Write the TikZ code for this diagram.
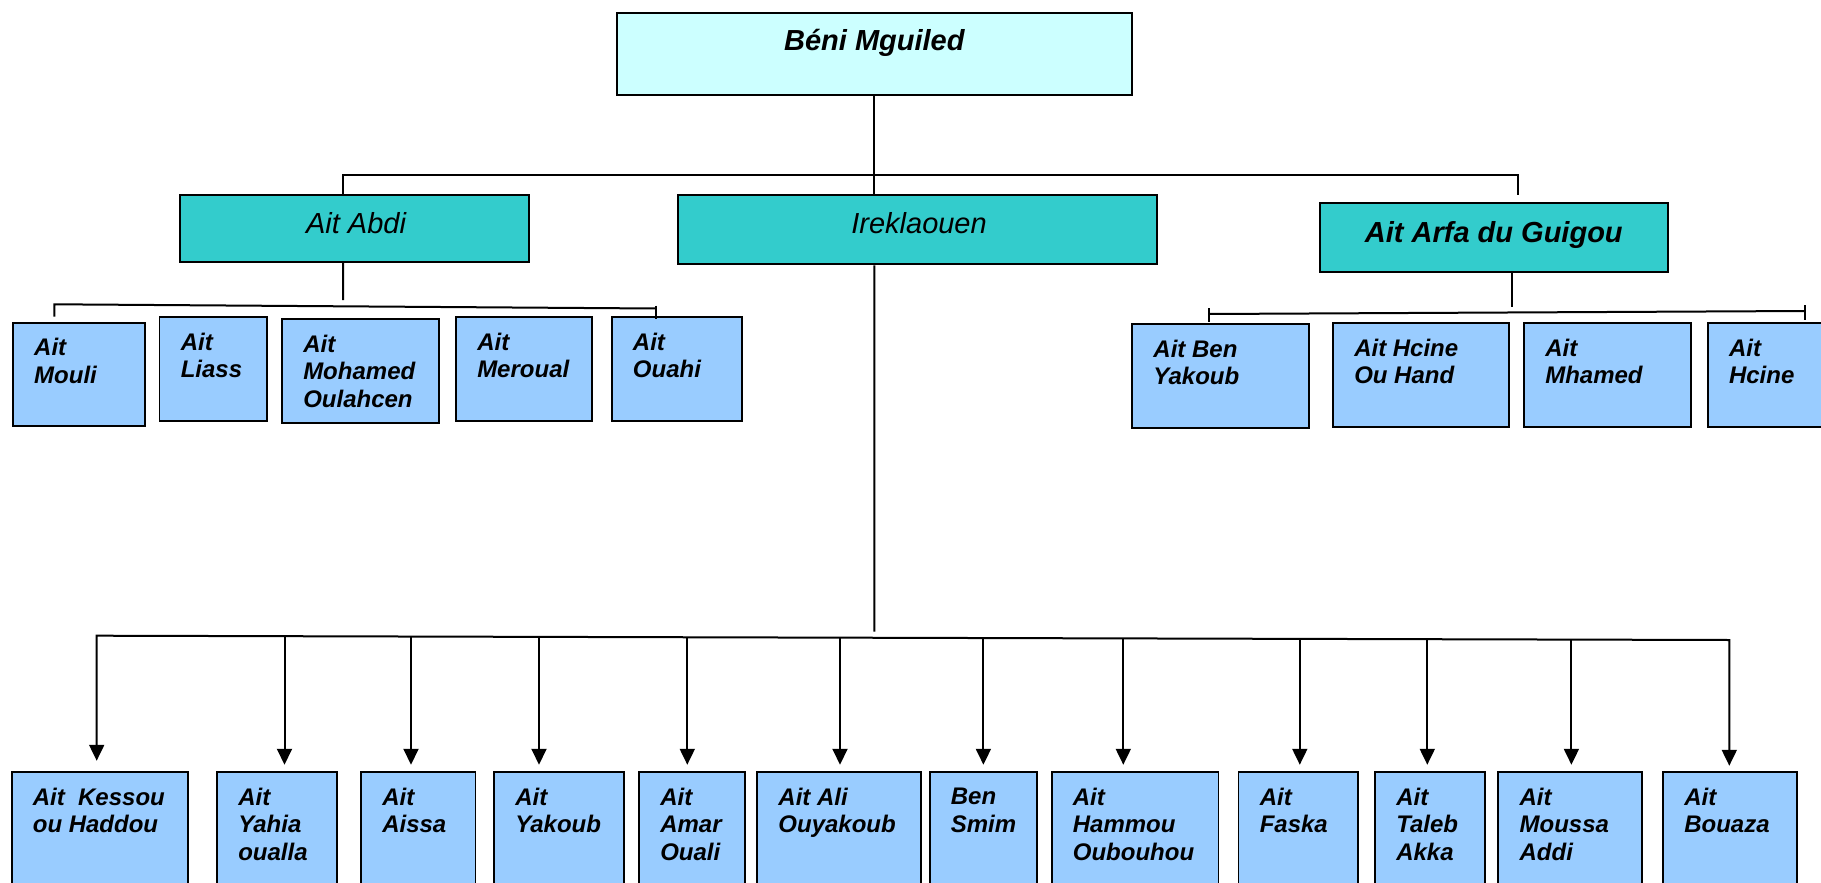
\documentclass[tikz,border=0pt]{standalone}
\usepackage{fontspec}
\setmainfont{Liberation Sans}
\usetikzlibrary{arrows.meta,fit}

\definecolor{rootfill}{HTML}{CCFFFF}
\definecolor{tribefill}{HTML}{33CCCC}
\definecolor{clanfill}{HTML}{99CCFF}

% clan box: name, left, top, right, bottom, text
\newcommand\clan[6]{%
  \node[clanbox, fit={(#2,#3) (#4,#5)}] (#1) {};
  \node[clantext] (#1-t) at ([xshift=22pt,yshift=-16.5pt]#1.north west) {#6};
}

\begin{document}
\begin{tikzpicture}[x=1pt,y=-1pt,
  box/.style={draw=black, line width=1.9pt, inner sep=0pt},
  rootbox/.style={box, fill=rootfill},
  tribebox/.style={box, fill=tribefill},
  clanbox/.style={box, fill=clanfill},
  tribetext/.style={inner sep=0pt, anchor=base, font=\fontsize{29}{34}\selectfont\itshape},
  headtext/.style={tribetext, font=\fontsize{29}{34}\selectfont\bfseries\itshape},
  clantext/.style={inner sep=0pt, anchor=north west, align=left,
    font=\fontsize{24}{27.5}\selectfont\bfseries\itshape},
  wire/.style={line width=2pt},
  tip/.tip={Triangle[length=16pt,width=15pt]},
  arr/.style={wire, -tip},
]
\useasboundingbox (0,0) rectangle (1821,883);
\fill[white] (0,0) rectangle (1821,883);
\clip (0,0) rectangle (1821,883);

% root and tribes
\node[rootbox, fit={(616.8,12.7) (1131.9,94.7)}] (beni) {};
\node[headtext] (beni-t) at ([yshift=-39pt]beni.north) {Béni Mguiled};

\node[tribebox, fit={(180.3,195) (528.8,262)}] (abdi) {};
\node[tribetext] (abdi-t) at ([xshift=1.5pt,yshift=-39pt]abdi.north) {Ait Abdi};

\node[tribebox, fit={(677.7,195) (1156.8,264.3)}] (irek) {};
\node[tribetext] (irek-t) at ([xshift=1.8pt,yshift=-39pt]irek.north) {Ireklaouen};

\node[tribebox, fit={(1319.8,203.3) (1667.8,272.3)}] (arfa) {};
\node[headtext] (arfa-t) at ([yshift=-40pt]arfa.north) {Ait Arfa du Guigou};

% clans of Ait Abdi
\clan{mouli}{13}{322.7}{145.4}{426}{Ait\\Mouli}
\clan{liass}{159.5}{317.3}{267}{420.7}{Ait\\Liass}
\clan{mohamed}{282}{319.3}{439}{422.7}{Ait\\Mohamed\\Oulahcen}
\clan{meroual}{456}{317.3}{592}{420.7}{Ait\\Meroual}
\clan{ouahi}{611.7}{317.3}{742}{420.7}{Ait\\Ouahi}

% clans of Ait Arfa du Guigou
\clan{benyakoub}{1132.2}{324}{1309.2}{428.3}{Ait Ben\\Yakoub}
\clan{ouhand}{1333}{323.3}{1509.2}{426.7}{Ait Hcine\\Ou Hand}
\clan{mhamed}{1524}{323.3}{1690.8}{426.7}{Ait\\Mhamed}
\clan{hcine}{1707.8}{323.3}{1840}{426.7}{Ait\\Hcine}

% clans of Ireklaouen
\clan{kessou}{11.6}{772.3}{188}{905}{Ait~ Kessou\\ou Haddou}
\clan{yahia}{217}{772.3}{337.4}{905}{Ait\\Yahia\\oualla}
\clan{aissa}{361}{772.3}{475.5}{905}{Ait\\Aissa}
\clan{yakoub}{494}{772.3}{624.3}{905}{Ait\\Yakoub}
\clan{amar}{639}{772.3}{745}{905}{Ait\\Amar\\Ouali}
\clan{ali}{757.2}{772.3}{920.6}{905}{Ait Ali\\Ouyakoub}
\clan{smim}{929.6}{772.3}{1037}{905}{Ben\\Smim}
\clan{hammou}{1051.6}{772.3}{1218.5}{905}{Ait\\Hammou\\Oubouhou}
\clan{faska}{1238.5}{772.3}{1357.7}{905}{Ait\\Faska}
\clan{taleb}{1375}{772.3}{1485.3}{905}{Ait\\Taleb\\Akka}
\clan{moussa}{1498.4}{772.3}{1642.4}{905}{Ait\\Moussa\\Addi}
\clan{bouaza}{1663}{772.3}{1797}{905}{Ait\\Bouaza}

% root to tribes
\coordinate (busL) at (342.7,174.5);
\coordinate (busR) at (1518,174.5);
\coordinate (busRend) at (1518,195);
\draw[wire] (beni.south) -- (beni.south |- irek.north);
\draw[wire] (busL |- abdi.north) -- (busL) -- (busR) -- (busRend);

% Ait Abdi to its clans
\coordinate (abdiDrop) at (343,300);
\coordinate (abL) at (54.3,304.3);
\coordinate (abLend) at (54.3,316.7);
\coordinate (abR) at (655.7,308.5);
\draw[wire] ([xshift=-11.5pt]abdi.south) -- (abdiDrop);
\draw[wire] (abLend) -- (abL) -- (abR);
\draw[wire] (655.7,305.5) -- (655.7,319.3);

% Ait Arfa du Guigou to its clans
\coordinate (arfaDrop) at (1511.5,306.7);
\coordinate (afL) at (1209.3,314);
\coordinate (afR) at (1805,311);
\draw[wire] ([xshift=17.7pt]arfa.south) -- (arfaDrop);
\draw[wire] (afL) -- (afR);
\draw[wire] (1209.3,308) -- (1209.3,321.5);
\draw[wire] (1805,305) -- (1805,320.3);

% Ireklaouen to its clans
\coordinate (irDrop) at (874.4,631.7);
\coordinate (irL) at (96.7,635.7);
\coordinate (irR) at (1729.3,640);
\draw[wire] ([xshift=-42.9pt]irek.south) -- (irDrop);
\draw[wire, tip-tip, shorten <=10.6pt, shorten >=5.6pt]
  (96.7,0 |- kessou.north) -- (irL) -- (irR) -- (1729.3,0 |- bouaza.north);
\foreach \n/\x in {yahia/284.5, aissa/411, yakoub/539, amar/687.3, ali/840,
                   smim/983.4, hammou/1123.3, faska/1299.8, taleb/1427.3, moussa/1571.4}
  \draw[arr, shorten >=6.6pt] (\x,{635.7+(\x-96.7)*0.002634}) -- (\x,0 |- \n.north);
\end{tikzpicture}
\end{document}
